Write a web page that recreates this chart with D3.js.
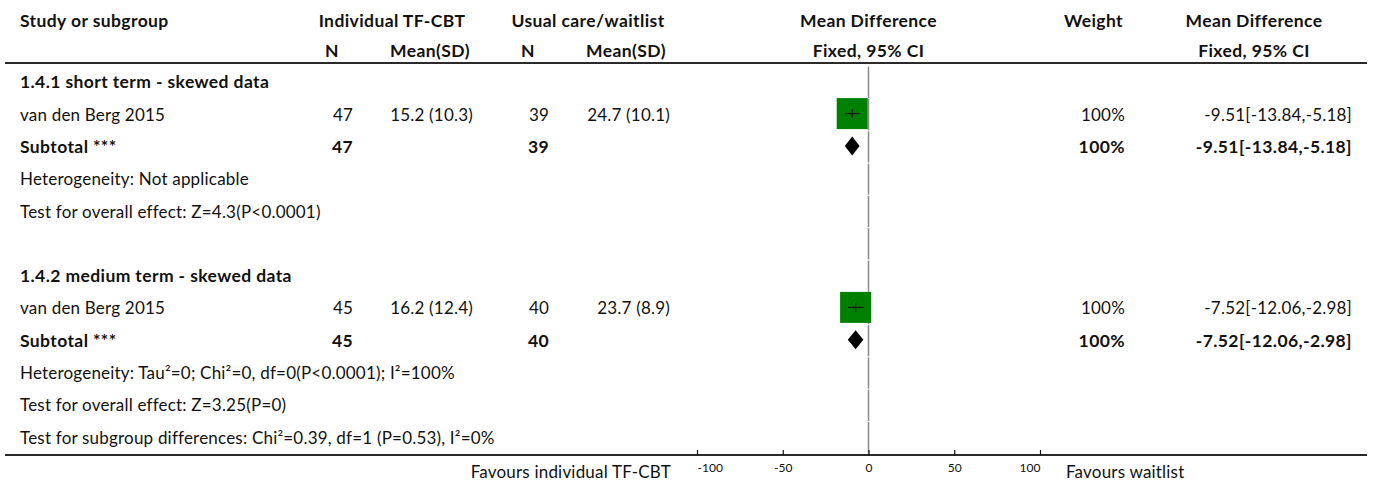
<!DOCTYPE html>
<html>
<head>
<meta charset="utf-8">
<script src="https://cdn.jsdelivr.net/npm/d3@7"></script>
<style>
  html, body { margin: 0; padding: 0; background: #fff; }
  svg { display: block; }
</style>
</head>
<body>
<svg id="chart" width="1373" height="483"></svg>
<script>
// ---------------- data ----------------
const subgroupLabels = ["1.4.1 short term - skewed data", "1.4.2 medium term - skewed data"];
const studyNames = ["van den Berg 2015", "van den Berg 2015"];
const treatN = [47, 45];
const treatMean = [15.2, 16.2];
const treatSD = [10.3, 12.4];
const ctrlN = [39, 40];
const ctrlMean = [24.7, 23.7];
const ctrlSD = [10.1, 8.9];
const meanDiff = [-9.51, -7.52];
const ciLower = [-13.84, -12.06];
const ciUpper = [-5.18, -2.98];
const weights = [100, 100];
const heterogeneity = ["Heterogeneity: Not applicable", "Heterogeneity: Tau\u00b2=0; Chi\u00b2=0, df=0(P<0.0001); I\u00b2=100%"];
const overallEffect = ["Test for overall effect: Z=4.3(P<0.0001)", "Test for overall effect: Z=3.25(P=0)"];
const subgroupDiffText = "Test for subgroup differences: Chi\u00b2=0.39, df=1 (P=0.53), I\u00b2=0%";
const axisTicks = [-100, -50, 0, 50, 100];
const favoursLabels = ["Favours individual TF-CBT", "Favours waitlist"];
const headerRow1 = ["Study or subgroup", "Individual TF-CBT", "Usual care/waitlist", "Mean Difference", "Weight", "Mean Difference"];
const headerRow2 = ["N", "Mean(SD)", "N", "Mean(SD)", "Fixed, 95% CI", "Fixed, 95% CI"];

// ---------------- layout ----------------
const svg = d3.select("#chart");
const FONT = "Lato, 'Open Sans', 'DejaVu Sans', sans-serif";
const regSize = 17, boldSize = 17.5;
const regSpacing = 0.2, boldSpacing = 0.4;

const x = d3.scaleLinear().domain([-100, 100]).range([697, 1040]);

const rowH = 32.3;
const row0 = 82.3;           // centre of first body row
const rowCenter = i => row0 + rowH * i;
const nRows = 12;

const col = {
  study: 20, n1: 353, m1: 473, n2: 549, m2: 670, weight: 1125, ci: 1352,
  h_n1: 332, h_m1: 430, h_n2: 528, h_m2: 626, h_g1: 392, h_g2: 588, h_w: 1123, h_ci: 1254
};

function txt(xp, y, s, opts = {}) {
  return svg.append("text")
    .attr("x", xp).attr("y", y)
    .attr("font-family", FONT)
    .attr("font-size", opts.bold ? boldSize : regSize)
    .attr("font-weight", opts.bold ? 700 : 400)
    .attr("letter-spacing", opts.bold ? boldSpacing : regSpacing)
    .attr("text-anchor", opts.anchor || "start")
    .attr("fill", opts.fill || "#111")
    .text(s);
}

// ---------------- header ----------------
const hy1 = 27, hy2 = 57;
txt(col.study, hy1, headerRow1[0], { bold: true });
txt(col.h_g1, hy1, headerRow1[1], { bold: true, anchor: "middle" });
txt(col.h_g2, hy1, headerRow1[2], { bold: true, anchor: "middle" });
txt(x(0), hy1, headerRow1[3], { bold: true, anchor: "middle" });
txt(col.h_w, hy1, headerRow1[4], { bold: true, anchor: "end" });
txt(col.h_ci, hy1, headerRow1[5], { bold: true, anchor: "middle" });
txt(col.h_n1, hy2, headerRow2[0], { bold: true, anchor: "middle" });
txt(col.h_m1, hy2, headerRow2[1], { bold: true, anchor: "middle" });
txt(col.h_n2, hy2, headerRow2[2], { bold: true, anchor: "middle" });
txt(col.h_m2, hy2, headerRow2[3], { bold: true, anchor: "middle" });
txt(x(0), hy2, headerRow2[4], { bold: true, anchor: "middle" });
txt(col.h_ci, hy2, headerRow2[5], { bold: true, anchor: "middle" });

svg.append("line").attr("x1", 5).attr("x2", 1367).attr("y1", 63).attr("y2", 63)
  .attr("stroke", "#2a2a2a").attr("stroke-width", 2);

// ---------------- zero line (per row segments) ----------------
for (let i = 0; i < nRows; i++) {
  const c = rowCenter(i);
  svg.append("line").attr("x1", x(0)).attr("x2", x(0))
    .attr("y1", c - rowH / 2 + 0.5).attr("y2", c + rowH / 2 - 0.5)
    .attr("stroke", "#8a8a8a").attr("stroke-width", 1.5);
}

// ---------------- body ----------------
const fmt1 = d3.format(".1f"), fmt2 = d3.format(".2f");
const minus = s => s.replace(/\u2212/g, "-");
const ciText = g => minus(`${fmt2(meanDiff[g])}[${fmt2(ciLower[g])},${fmt2(ciUpper[g])}]`);
const BOX = 31;

subgroupLabels.forEach((label, g) => {
  const base = g * 6;
  const yb = i => rowCenter(base + i) + 6;   // text baseline
  // subgroup heading
  txt(col.study, yb(0), label, { bold: true });
  // study row
  txt(col.study, yb(1), studyNames[g]);
  txt(col.n1, yb(1), treatN[g], { anchor: "end" });
  txt(col.m1, yb(1), `${fmt1(treatMean[g])} (${fmt1(treatSD[g])})`, { anchor: "end" });
  txt(col.n2, yb(1), ctrlN[g], { anchor: "end" });
  txt(col.m2, yb(1), `${fmt1(ctrlMean[g])} (${fmt1(ctrlSD[g])})`, { anchor: "end" });
  txt(col.weight, yb(1), `${weights[g]}%`, { anchor: "end" });
  txt(col.ci, yb(1), ciText(g), { anchor: "end" });

  const cy = rowCenter(base + 1) - 1;
  svg.append("rect")
    .attr("x", x(meanDiff[g]) - BOX / 2).attr("y", cy - BOX / 2)
    .attr("width", BOX).attr("height", BOX).attr("fill", "#008000");
  svg.append("line").attr("x1", x(ciLower[g])).attr("x2", x(ciUpper[g]))
    .attr("y1", cy).attr("y2", cy).attr("stroke", "#1a1a1a").attr("stroke-width", 1.3);
  svg.append("line").attr("x1", x(meanDiff[g])).attr("x2", x(meanDiff[g]))
    .attr("y1", cy - 4.5).attr("y2", cy + 4.5).attr("stroke", "#1a1a1a").attr("stroke-width", 1.3);

  // subtotal row
  txt(col.study, yb(2), "Subtotal ***", { bold: true });
  txt(col.n1, yb(2), treatN[g], { bold: true, anchor: "end" });
  txt(col.n2, yb(2), ctrlN[g], { bold: true, anchor: "end" });
  txt(col.weight, yb(2), `${weights[g]}%`, { bold: true, anchor: "end" });
  txt(col.ci, yb(2), ciText(g), { bold: true, anchor: "end" });
  const dy = rowCenter(base + 2) - 1;
  const dh = 9.5;
  svg.append("path")
    .attr("d", `M${x(ciLower[g])},${dy} L${x(meanDiff[g])},${dy - dh} L${x(ciUpper[g])},${dy} L${x(meanDiff[g])},${dy + dh} Z`)
    .attr("fill", "#000");

  // stats
  txt(col.study, yb(3), heterogeneity[g]);
  txt(col.study, yb(4), overallEffect[g]);
});
txt(col.study, rowCenter(11) + 6, subgroupDiffText);

// ---------------- axis ----------------
const axisY = 455;
svg.append("line").attr("x1", 5).attr("x2", 1367).attr("y1", axisY).attr("y2", axisY)
  .attr("stroke", "#2a2a2a").attr("stroke-width", 2);

const axisG = svg.append("g").attr("transform", `translate(0,${axisY})`)
  .call(d3.axisBottom(x).tickValues(axisTicks).tickFormat(d3.format("d")).tickSize(-5).tickPadding(8));
axisG.select(".domain").remove();
axisG.selectAll(".tick line").attr("stroke", "#111").attr("stroke-width", 1.2);
axisG.selectAll(".tick text")
  .attr("font-family", FONT).attr("font-size", 12).attr("fill", "#111")
  .text(d => minus(d3.format("d")(d)))
  .attr("text-anchor", (d, i, n) => i === 0 ? "start" : (i === n.length - 1 ? "end" : "middle"));

txt(671, 478, favoursLabels[0], { anchor: "end" });
txt(1066, 478, favoursLabels[1]);
</script>
</body>
</html>
